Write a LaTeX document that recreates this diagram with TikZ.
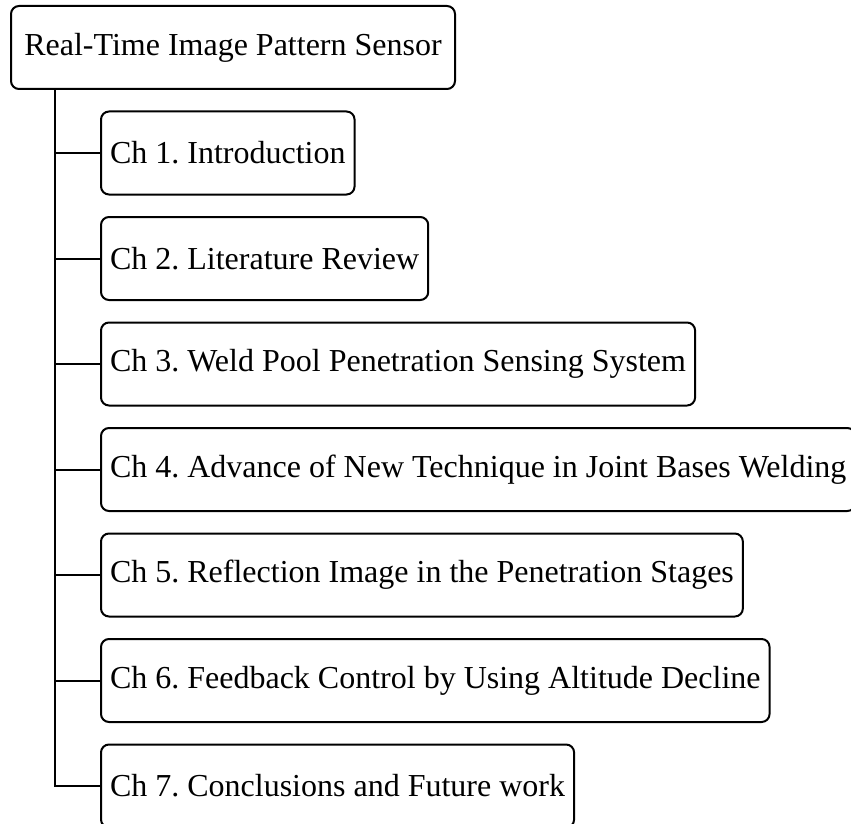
\documentclass[tikz,border=0pt]{standalone}
\usepackage{fontspec}
\setmainfont{Liberation Serif}
\frenchspacing
\usetikzlibrary{trees,positioning}
\tikzset{
  every node/.style={
    font=\fontsize{32}{38}\selectfont
  },
  thesis/.style={
    shape=rectangle,
    draw=black,
    line width=2pt,
    rounded corners=8pt,
    minimum height=83pt,
    minimum width=444pt,
    text centered
  },
  chapter/.style={
    shape=rectangle,
    draw=black,
    line width=2pt,
    rounded corners=8pt,
    minimum height=83pt,
    inner xsep=9pt,
    anchor=west
  },
  outline tree/.style={
    grow via three points={one child at (-133,-105.5) and
      two children at (-133,-105.5) and (-133,-211)},
    edge from parent path={
      (\tikzparentnode.south west) ++(45,0) |- (\tikzchildnode.west)
    },
    edge from parent/.style={draw=black,line width=2pt}
  }
}
\begin{document}
\begin{tikzpicture}[x=1pt,y=1pt]
    \useasboundingbox (0,0) rectangle (851,-824);
    \node [thesis] (root) at (233,-47.5) {Real-Time Image Pattern Sensor}
    [outline tree]
    child { node [chapter] (ch1) {Ch 1. Introduction} }
    child { node [chapter] (ch2) {Ch 2. Literature Review} }
    child { node [chapter] (ch3) {Ch 3. Weld Pool Penetration Sensing System} }
    child { node [chapter] (ch4) {Ch 4. Advance of New Technique in Joint Bases Welding} }
    child { node [chapter] (ch5) {Ch 5. Reflection Image in the Penetration Stages} }
    child { node [chapter] (ch6) {Ch 6. Feedback Control by Using Altitude Decline} }
    child { node [chapter] (ch7) {Ch 7. Conclusions and Future work} };
\end{tikzpicture}
\end{document}
